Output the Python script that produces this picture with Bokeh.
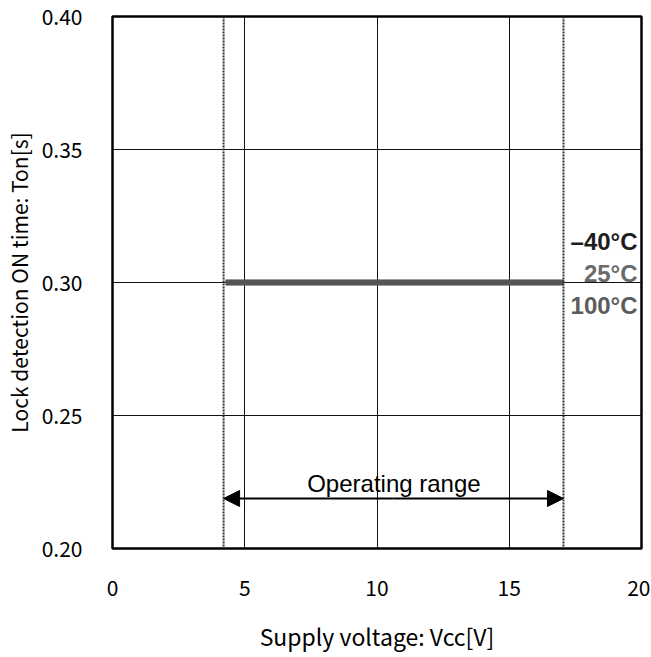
from bokeh.plotting import figure
from bokeh.models import Arrow, NormalHead, Span, Label, FixedTicker, CustomJSTickFormatter
from bokeh.embed import file_html
from bokeh.resources import INLINE

# Data
x_ticks = [0, 5, 10, 15, 20]
y_ticks = [0.20, 0.25, 0.30, 0.35, 0.40]
vcc = [4.28, 17.05]
ton_m40 = [0.30, 0.30]
ton_25 = [0.30, 0.30]
ton_100 = [0.30, 0.30]
range_lo, range_hi = 4.2, 17.05
range_arrow_y = 0.2188
temp_labels = ["\u201340\u00b0C", "25\u00b0C", "100\u00b0C"]
temp_label_y = [0.3154, 0.3032, 0.2915]
temp_colors = ["#1e1e1e", "#6a6a6a", "#5c5c5c"]
x_title = "Supply voltage: Vcc[V]"
y_title = "Lock detection ON time: Ton[s]"

p = figure(width=650, height=657, x_range=(0, 20), y_range=(0.20, 0.40),
           output_backend="svg", toolbar_location=None,
           min_border_left=112, min_border_right=9, min_border_top=16, min_border_bottom=109)

p.outline_line_color = "black"
p.outline_line_width = 2.5
p.background_fill_color = "white"
p.border_fill_color = "white"

for ax in (p.xaxis[0], p.yaxis[0]):
    ax.axis_line_color = None
    ax.major_tick_line_color = None
    ax.minor_tick_line_color = None
    ax.major_label_text_font = "Noto Sans CJK JP"
    ax.major_label_text_font_size = "21px"
    ax.major_label_text_color = "black"
    ax.axis_label_text_font = "Noto Sans CJK JP"
    ax.axis_label_text_font_style = "normal"
    ax.axis_label_text_color = "black"

p.xaxis.axis_label_text_font_size = "23px"
p.yaxis.axis_label_text_font_size = "21px"
p.xaxis.ticker = FixedTicker(ticks=x_ticks)
p.yaxis.ticker = FixedTicker(ticks=y_ticks)
p.yaxis.formatter = CustomJSTickFormatter(code="return tick.toFixed(2);")
p.xaxis.major_label_standoff = 25
p.yaxis.major_label_standoff = 24
p.xaxis.axis_label = x_title
p.yaxis.axis_label = y_title
p.xaxis.axis_label_standoff = 20
p.yaxis.axis_label_standoff = 5

p.xgrid.ticker = FixedTicker(ticks=[5, 10, 15])
p.ygrid.ticker = FixedTicker(ticks=[0.25, 0.30, 0.35])
p.xgrid.grid_line_color = "#111111"
p.ygrid.grid_line_color = "#111111"
p.xgrid.grid_line_width = 1
p.ygrid.grid_line_width = 1

for xv in (range_lo, range_hi):
    p.add_layout(Span(location=xv, dimension="height", line_color="#333333",
                      line_width=2, line_dash="2 1"))

p.line(vcc, ton_100, line_color="#5a5a5a", line_width=5.5)
p.line(vcc, ton_25, line_color="#5a5a5a", line_width=5.5)
p.line(vcc, ton_m40, line_color="#555555", line_width=5.5)

for t, yv, c in zip(temp_labels, temp_label_y, temp_colors):
    p.add_layout(Label(x=19.85, y=yv, text=t, text_align="right", text_baseline="middle",
                       text_font="Liberation Sans", text_font_style="bold",
                       text_font_size="24px", text_color=c))

mid = (range_lo + range_hi) / 2
for xe in (range_lo, range_hi):
    p.add_layout(Arrow(x_start=mid, y_start=range_arrow_y, x_end=xe, y_end=range_arrow_y,
                       line_color="black", line_width=2,
                       end=NormalHead(size=16, fill_color="black", line_color="black")))
p.add_layout(Label(x=10.64, y=0.2244, text="Operating range", text_align="center",
                   text_baseline="middle", text_font="Liberation Sans",
                   text_font_size="24px", text_color="black"))

open("out.html", "w").write(file_html(p, INLINE))
